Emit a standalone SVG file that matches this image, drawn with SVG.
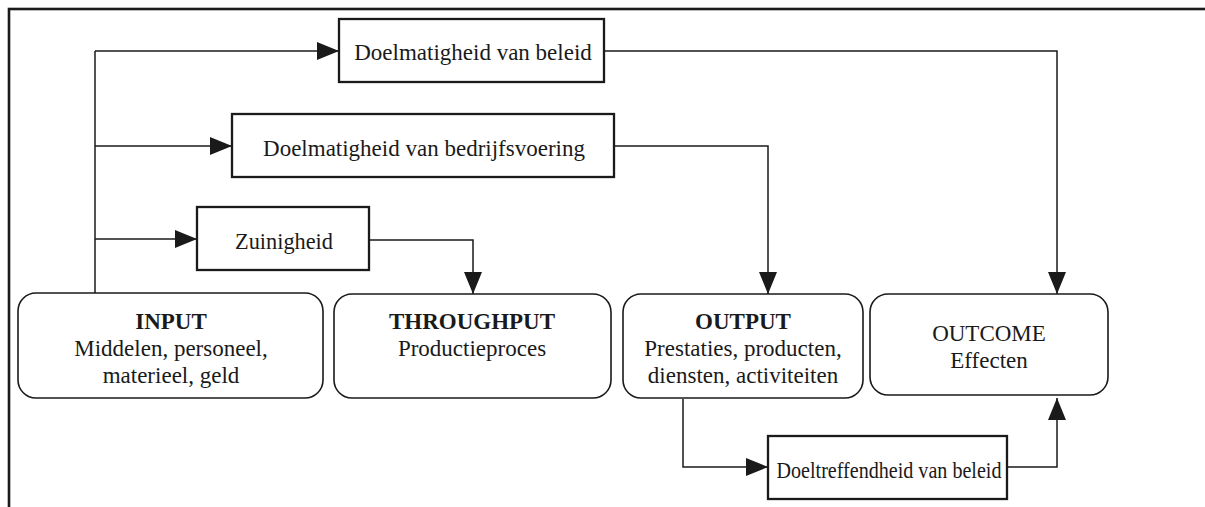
<svg xmlns="http://www.w3.org/2000/svg" width="1205" height="507" viewBox="0 0 1205 507">
  <style>
    .frame { fill: none; stroke: #1a1a1a; stroke-width: 2.6; }
    .box { fill: #fff; stroke: #1a1a1a; stroke-width: 2.3; }
    .rbox { fill: #fff; stroke: #1a1a1a; stroke-width: 1.6; }
    .conn { fill: none; stroke: #1a1a1a; stroke-width: 1.5; }
    text { font-family: "Liberation Serif", "Times New Roman", serif; font-size: 23px; fill: #1a1a1a; text-anchor: middle; }
    .b { font-weight: bold; }
  </style>
  <defs>
    <marker id="arrow" markerUnits="userSpaceOnUse" markerWidth="22" markerHeight="18" refX="22" refY="9" orient="auto">
      <path d="M0,0 L22,9 L0,18 Z" fill="#1a1a1a"/>
    </marker>
  </defs>

  <rect class="frame" x="9" y="9" width="1300" height="600"/>

  <g id="connectors">
    <!-- trunk rising from INPUT with three branches -->
    <path class="conn" d="M95,293 V51"/>
    <path class="conn" d="M95,51 H339" marker-end="url(#arrow)"/>
    <path class="conn" d="M95,146 H232" marker-end="url(#arrow)"/>
    <path class="conn" d="M95,239 H197" marker-end="url(#arrow)"/>
    <!-- branch boxes down to the process boxes -->
    <path class="conn" d="M370,240 H473 V294" marker-end="url(#arrow)"/>
    <path class="conn" d="M615,146 H768 V294" marker-end="url(#arrow)"/>
    <path class="conn" d="M605,51 H1057 V294" marker-end="url(#arrow)"/>
    <!-- OUTPUT to effectiveness to OUTCOME -->
    <path class="conn" d="M683,399 V467 H768" marker-end="url(#arrow)"/>
    <path class="conn" d="M1008,467 H1057 V398" marker-end="url(#arrow)"/>
  </g>

  <g id="doelmatigheid-beleid">
    <rect class="box" x="339" y="19" width="265" height="63"/>
    <text x="473" y="60">Doelmatigheid van beleid</text>
  </g>

  <g id="doelmatigheid-bedrijfsvoering">
    <rect class="box" x="232" y="114" width="382" height="63"/>
    <text x="424" y="156">Doelmatigheid van bedrijfsvoering</text>
  </g>

  <g id="zuinigheid">
    <rect class="box" x="197" y="207" width="172" height="63"/>
    <text x="284" y="249" textLength="98" lengthAdjust="spacingAndGlyphs">Zuinigheid</text>
  </g>

  <g id="input">
    <rect class="rbox" x="18" y="293" width="305" height="105" rx="18" ry="18"/>
    <text class="b" x="171" y="329">INPUT</text>
    <text x="171" y="356">Middelen, personeel,</text>
    <text x="171" y="383">materieel, geld</text>
  </g>

  <g id="throughput">
    <rect class="rbox" x="334" y="294" width="277" height="104" rx="18" ry="18"/>
    <text class="b" x="472" y="329">THROUGHPUT</text>
    <text x="472" y="356">Productieproces</text>
  </g>

  <g id="output">
    <rect class="rbox" x="623" y="294" width="240" height="104" rx="18" ry="18"/>
    <text class="b" x="743" y="329">OUTPUT</text>
    <text x="743" y="356">Prestaties, producten,</text>
    <text x="743" y="383">diensten, activiteiten</text>
  </g>

  <g id="outcome">
    <rect class="rbox" x="870" y="294" width="238" height="101" rx="18" ry="18"/>
    <text x="989" y="341">OUTCOME</text>
    <text x="989" y="368">Effecten</text>
  </g>

  <g id="doeltreffendheid">
    <rect class="box" x="768" y="436" width="239" height="63"/>
    <text x="889" y="478" textLength="225" lengthAdjust="spacingAndGlyphs">Doeltreffendheid van beleid</text>
  </g>
</svg>
